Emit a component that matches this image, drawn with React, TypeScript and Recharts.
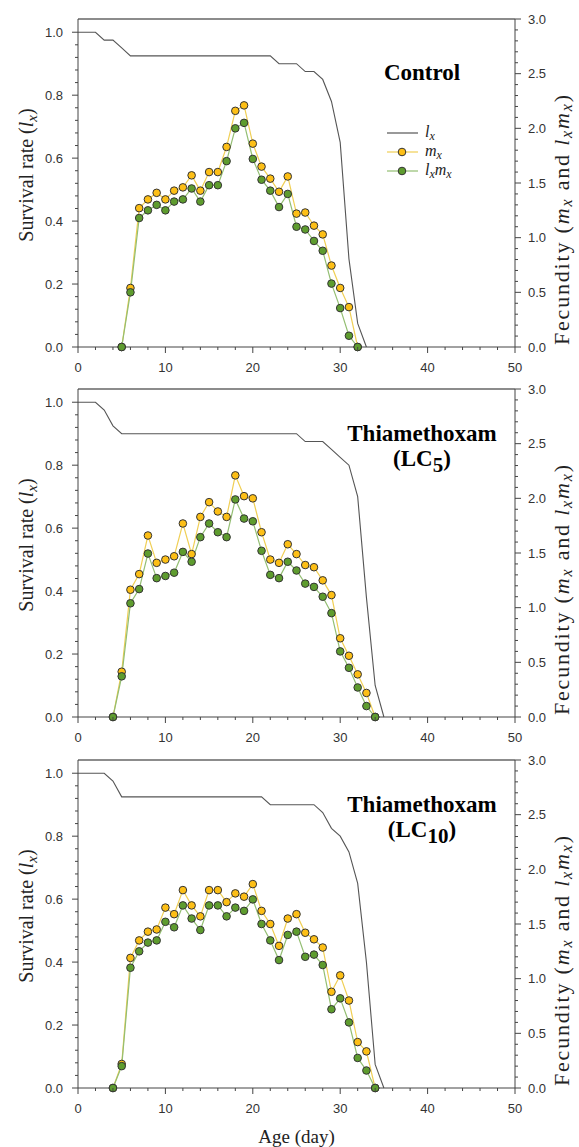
import React from "react";
import { ComposedChart, Line, XAxis, YAxis, ReferenceLine } from "recharts";

// ---- data ----
// survival rate l_x, one value per day starting at day 0
const controlLx = [1, 1, 1, 0.975, 0.975, 0.95, 0.925, 0.925, 0.925, 0.925, 0.925, 0.925, 0.925, 0.925, 0.925, 0.925, 0.925, 0.925, 0.925, 0.925, 0.925, 0.925, 0.925, 0.9, 0.9, 0.9, 0.875, 0.875, 0.85, 0.78, 0.65, 0.28, 0.075, 0];
const lc5Lx = [1, 1, 1, 0.975, 0.925, 0.9, 0.9, 0.9, 0.9, 0.9, 0.9, 0.9, 0.9, 0.9, 0.9, 0.9, 0.9, 0.9, 0.9, 0.9, 0.9, 0.9, 0.9, 0.9, 0.9, 0.9, 0.875, 0.875, 0.875, 0.85, 0.825, 0.8, 0.7, 0.38, 0.1, 0];
const lc10Lx = [1, 1, 1, 1, 0.975, 0.925, 0.925, 0.925, 0.925, 0.925, 0.925, 0.925, 0.925, 0.925, 0.925, 0.925, 0.925, 0.925, 0.925, 0.925, 0.925, 0.925, 0.9, 0.9, 0.9, 0.9, 0.9, 0.9, 0.875, 0.825, 0.8, 0.75, 0.65, 0.4, 0.075, 0];

// fecundity m_x and l_x*m_x, starting at the first reproductive day
const controlStart = 5;
const controlMx = [0, 0.54, 1.27, 1.35, 1.41, 1.35, 1.43, 1.46, 1.57, 1.43, 1.6, 1.6, 1.83, 2.16, 2.21, 1.86, 1.65, 1.54, 1.42, 1.56, 1.22, 1.23, 1.11, 1.03, 0.745, 0.54, 0.365, 0];
const controlLxMx = [0, 0.5, 1.18, 1.25, 1.3, 1.25, 1.33, 1.35, 1.45, 1.33, 1.48, 1.48, 1.7, 2.0, 2.05, 1.72, 1.53, 1.43, 1.28, 1.4, 1.1, 1.075, 0.97, 0.88, 0.58, 0.356, 0.103, 0];

const lc5Start = 4;
const lc5Mx = [0, 0.414, 1.164, 1.307, 1.66, 1.41, 1.44, 1.47, 1.77, 1.49, 1.83, 1.965, 1.88, 1.83, 2.21, 2.02, 2.0, 1.69, 1.44, 1.41, 1.58, 1.49, 1.39, 1.37, 1.25, 1.115, 0.72, 0.56, 0.39, 0.22, 0];
const lc5LxMx = [0, 0.372, 1.04, 1.17, 1.495, 1.27, 1.29, 1.32, 1.51, 1.42, 1.645, 1.77, 1.69, 1.645, 1.99, 1.815, 1.79, 1.52, 1.3, 1.27, 1.42, 1.34, 1.22, 1.19, 1.1, 0.95, 0.6, 0.45, 0.27, 0.1, 0];

const lc10Start = 4;
const lc10Mx = [0, 0.22, 1.19, 1.35, 1.43, 1.45, 1.65, 1.59, 1.81, 1.67, 1.57, 1.81, 1.81, 1.7, 1.78, 1.75, 1.865, 1.62, 1.5, 1.3, 1.55, 1.59, 1.42, 1.36, 1.285, 0.88, 1.03, 0.8, 0.42, 0.335, 0];
const lc10LxMx = [0, 0.2, 1.1, 1.25, 1.33, 1.35, 1.52, 1.47, 1.67, 1.55, 1.445, 1.67, 1.67, 1.57, 1.65, 1.62, 1.725, 1.5, 1.35, 1.17, 1.4, 1.43, 1.2, 1.22, 1.125, 0.72, 0.82, 0.6, 0.275, 0.16, 0];

// tick labels
const xMajor = [0, 10, 20, 30, 40, 50];
const leftMajor = [0, 0.2, 0.4, 0.6, 0.8, 1.0];
const rightMajor = [0, 0.5, 1.0, 1.5, 2.0, 2.5, 3.0];

// ---- layout ----
const W = 579;
const PLOT_L = 78;
const PLOT_R = 515;
const TOP = 19;
const PLOT_B = 347;
const AXIS = "#444";
const SANS = "'Liberation Sans', Arial, sans-serif";
const SERIF = "'Liberation Serif', 'Times New Roman', serif";

const steps = (max: number, step: number) =>
  Array.from({ length: Math.round(max / step) + 1 }, (_, i) => Math.round(i * step * 100) / 100);
const xTicks = steps(50, 2);
const leftTicks = steps(1.0, 0.04);
const rightTicks = steps(3, 0.1);
const isMajor = (v: number, list: number[]) => list.some((m) => Math.abs(m - v) < 1e-6);

function buildRows(lx: number[], start: number, mx: number[], lxmx: number[]) {
  const last = Math.max(lx.length - 1, start + mx.length - 1);
  const rows = [];
  for (let d = 0; d <= last; d++) {
    const k = d - start;
    rows.push({
      day: d,
      lx: d < lx.length ? lx[d] : null,
      mx: k >= 0 && k < mx.length ? mx[k] : null,
      lxmx: k >= 0 && k < lxmx.length ? lxmx[k] : null,
    });
  }
  return rows;
}

const leftTick = (p: any) => {
  const v = p.payload.value;
  const major = isMajor(v, leftMajor);
  return (
    <g>
      <line x1={PLOT_L - (major ? 6 : 3)} x2={PLOT_L} y1={p.y} y2={p.y} stroke={AXIS} />
      {major && (
        <text x={PLOT_L - 15} y={p.y} dy="0.36em" textAnchor="end" fontSize={13} fontFamily={SANS} fill="#333">
          {v.toFixed(1)}
        </text>
      )}
    </g>
  );
};

const rightTick = (p: any) => {
  const v = p.payload.value;
  const major = isMajor(v, rightMajor);
  return (
    <g>
      <line x1={PLOT_R} x2={PLOT_R + (major ? 6 : 3)} y1={p.y} y2={p.y} stroke={AXIS} />
      {major && (
        <text x={PLOT_R + 13} y={p.y} dy="0.36em" textAnchor="start" fontSize={13} fontFamily={SANS} fill="#333">
          {v.toFixed(1)}
        </text>
      )}
    </g>
  );
};

const bottomTick = (p: any) => {
  const v = p.payload.value;
  const major = isMajor(v, xMajor);
  return (
    <g>
      <line x1={p.x} x2={p.x} y1={PLOT_B} y2={PLOT_B + (major ? 6 : 3)} stroke={AXIS} />
      {major && (
        <text x={p.x} y={PLOT_B + 25} textAnchor="middle" fontSize={13} fontFamily={SANS} fill="#333">
          {v}
        </text>
      )}
    </g>
  );
};

const SurvivalLabel = () => (
  <text x={33} y={175} transform="rotate(-90, 33, 175)" textAnchor="middle" fontSize={20} fontFamily={SERIF} fill="#222">
    Survival rate (<tspan fontStyle="italic">l</tspan>
    <tspan fontStyle="italic" fontSize={15} dy={4}>x</tspan>
    <tspan dy={-4}>)</tspan>
  </text>
);

const FecundityLabel = () => (
  <text
    x={569}
    y={220}
    transform="rotate(-90, 569, 220)"
    textAnchor="middle"
    fontSize={22}
    fontFamily={SERIF}
    fill="#222"
    textLength={250}
    lengthAdjust="spacing"
  >
    Fecundity (<tspan fontStyle="italic">m</tspan>
    <tspan fontStyle="italic" fontSize={16} dy={3}>x</tspan>
    <tspan dy={-3}> and </tspan>
    <tspan fontStyle="italic">l</tspan>
    <tspan fontStyle="italic" fontSize={16} dy={3}>x</tspan>
    <tspan fontStyle="italic" dy={-3}>m</tspan>
    <tspan fontStyle="italic" fontSize={16} dy={3}>x</tspan>
    <tspan dy={-3}>)</tspan>
  </text>
);

const AgeLabel = () => (
  <text x={(PLOT_L + PLOT_R) / 2} y={PLOT_B + 55} textAnchor="middle" fontSize={19} fontFamily={SERIF} fill="#222">
    Age (day)
  </text>
);

const YELLOW_LINE = "#F0CF55";
const YELLOW_DOT = "#FDBF16";
const GREEN_LINE = "#93BE72";
const GREEN_DOT = "#5E9C2E";
const DOT_STROKE = "#333";

function Legend1() {
  const rows = [
    { y: 133, color: "#555", dot: null as string | null, name: ["l", "x"] },
    { y: 152, color: YELLOW_LINE, dot: YELLOW_DOT, name: ["m", "x"] },
    { y: 171, color: GREEN_LINE, dot: GREEN_DOT, name: ["l", "x", "m", "x"] },
  ];
  return (
    <g>
      {rows.map((r, i) => (
        <g key={i}>
          <line x1={387} x2={418} y1={r.y} y2={r.y} stroke={r.color} strokeWidth={1.2} />
          {r.dot && <circle cx={402} cy={r.y} r={3.8} fill={r.dot} stroke={DOT_STROKE} strokeWidth={1} />}
          <text x={425} y={r.y + 4} fontSize={16} fontFamily={SERIF} fontStyle="italic" fill="#222">
            {r.name.length === 2 ? (
              <>
                {r.name[0]}
                <tspan fontSize={12} dy={3}>{r.name[1]}</tspan>
              </>
            ) : (
              <>
                l<tspan fontSize={12} dy={3}>x</tspan>
                <tspan dy={-3}>m</tspan>
                <tspan fontSize={12} dy={3}>x</tspan>
              </>
            )}
          </text>
        </g>
      ))}
    </g>
  );
}

function Title({ line1, sub }: { line1: string; sub?: string }) {
  if (!sub) {
    return (
      <text x={422} y={80} textAnchor="middle" fontSize={23} fontWeight="bold" fontFamily={SERIF} fill="#000">
        {line1}
      </text>
    );
  }
  return (
    <g>
      <text x={422} y={71} textAnchor="middle" fontSize={23} fontWeight="bold" fontFamily={SERIF} fill="#000">
        {line1}
      </text>
      <text x={422} y={96} textAnchor="middle" fontSize={23} fontWeight="bold" fontFamily={SERIF} fill="#000">
        (LC<tspan fontSize={21} dy={6}>{sub}</tspan>
        <tspan dy={-6}>)</tspan>
      </text>
    </g>
  );
}

function Panel({ top, height, rows, title, sub, legend, ageLabel }: any) {
  return (
    <div style={{ position: "absolute", left: 0, top, width: W, height }}>
      <ComposedChart width={W} height={height} data={rows} margin={{ top: TOP, right: 0, bottom: 0, left: 0 }}>
        <XAxis
          dataKey="day"
          type="number"
          domain={[0, 50]}
          ticks={xTicks}
          interval={0}
          height={height - PLOT_B}
          stroke={AXIS}
          tickLine={false}
          tick={bottomTick}
          label={ageLabel ? <AgeLabel /> : undefined}
        />
        <YAxis
          yAxisId="l"
          orientation="left"
          type="number"
          domain={[0, 1.042]}
          ticks={leftTicks}
          interval={0}
          width={PLOT_L}
          stroke={AXIS}
          tickLine={false}
          tick={leftTick}
          label={<SurvivalLabel />}
        />
        <YAxis
          yAxisId="r"
          orientation="right"
          type="number"
          domain={[0, 3]}
          ticks={rightTicks}
          interval={0}
          width={W - PLOT_R}
          stroke={AXIS}
          tickLine={false}
          tick={rightTick}
          label={<FecundityLabel />}
        />
        <ReferenceLine yAxisId="r" y={3} stroke="#666" strokeWidth={1.5} />
        <Line yAxisId="l" type="linear" dataKey="lx" stroke="#555" strokeWidth={1.1} dot={false} isAnimationActive={false} />
        <Line
          yAxisId="r"
          type="linear"
          dataKey="mx"
          stroke={YELLOW_LINE}
          strokeWidth={1.2}
          dot={{ r: 3.8, fill: YELLOW_DOT, stroke: DOT_STROKE, strokeWidth: 1 }}
          isAnimationActive={false}
        />
        <Line
          yAxisId="r"
          type="linear"
          dataKey="lxmx"
          stroke={GREEN_LINE}
          strokeWidth={1.2}
          dot={{ r: 3.8, fill: GREEN_DOT, stroke: DOT_STROKE, strokeWidth: 1 }}
          isAnimationActive={false}
        />
      </ComposedChart>
      <svg width={W} height={height} style={{ position: "absolute", left: 0, top: 0, pointerEvents: "none" }}>
        <Title line1={title} sub={sub} />
        {legend && <Legend1 />}
      </svg>
    </div>
  );
}

export default function App() {
  return (
    <div style={{ position: "absolute", left: 0, top: 0, width: W, height: 1147, background: "#fff" }}>
      <Panel top={0} height={382} rows={buildRows(controlLx, controlStart, controlMx, controlLxMx)} title="Control" legend />
      <Panel top={370} height={382} rows={buildRows(lc5Lx, lc5Start, lc5Mx, lc5LxMx)} title="Thiamethoxam" sub="5" />
      <Panel top={741} height={406} rows={buildRows(lc10Lx, lc10Start, lc10Mx, lc10LxMx)} title="Thiamethoxam" sub="10" ageLabel />
    </div>
  );
}
